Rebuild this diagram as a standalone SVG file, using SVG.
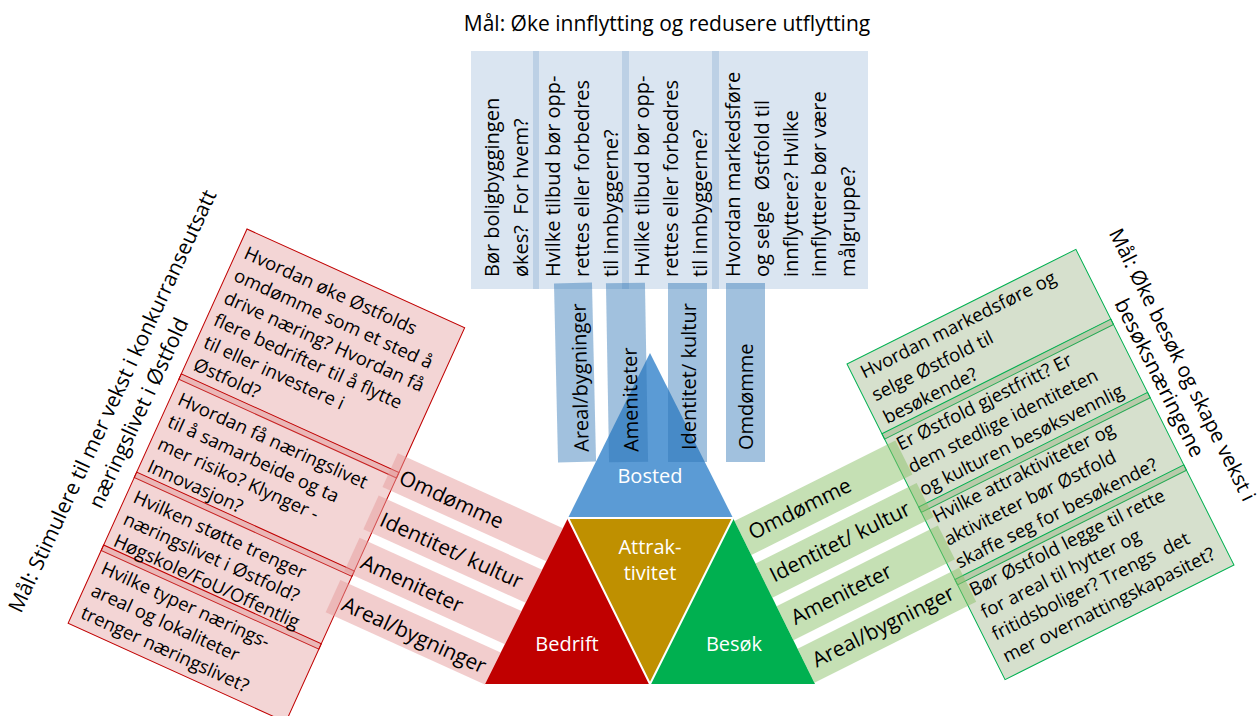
<svg xmlns="http://www.w3.org/2000/svg" width="1260" height="716" viewBox="0 0 1260 716">
<style>
text { font-family: "Open Sans", "Noto Sans", "DejaVu Sans", sans-serif; fill: #000; white-space: pre; }
.t21 { font-size: 21px; }
.tq { font-size: 20px; }
.q { font-size: 18.5px; }
.bl { font-size: 20px; }
.gl { font-size: 21px; }
.lbl { font-size: 20px; fill: #fff; text-anchor: middle; }
.topbox { fill: rgb(70,125,185); fill-opacity: 0.2; }
.bbar { fill: #2e75b6; fill-opacity: 0.45; }
.pbox { fill: rgb(215,115,115); fill-opacity: 0.3; stroke: #c00000; stroke-width: 1; }
.pbar { fill: rgb(229,155,155); fill-opacity: 0.5; }
.gbox { fill: rgb(118,152,88); fill-opacity: 0.3; stroke: #00b050; stroke-width: 1; }
.gbar { fill: rgb(139,193,105); fill-opacity: 0.5; }
</style>
<rect width="1260" height="716" fill="#fff"/>

<g id="goal-top">
<text class="t21" x="667" y="31" text-anchor="middle">Mål: Øke innflytting og redusere utflytting</text>
</g>

<g id="top-questions">
<g id="q-bolig">
<rect class="topbox" x="471" y="51" width="68" height="238"/>
<text class="tq" transform="rotate(-90)" x="-277" y="499">Bør boligbyggingen</text>
<text class="tq" transform="rotate(-90)" x="-277" y="528">økes?  For hvem?</text>
</g>
<g id="q-tilbud-1">
<rect class="topbox" x="533" y="51" width="96" height="238"/>
<text class="tq" transform="rotate(-90)" x="-277" y="560">Hvilke tilbud bør opp-</text>
<text class="tq" transform="rotate(-90)" x="-277" y="589">rettes eller forbedres</text>
<text class="tq" transform="rotate(-90)" x="-277" y="618">til innbyggerne?</text>
</g>
<g id="q-tilbud-2">
<rect class="topbox" x="622" y="51" width="97" height="238"/>
<text class="tq" transform="rotate(-90)" x="-277" y="649">Hvilke tilbud bør opp-</text>
<text class="tq" transform="rotate(-90)" x="-277" y="678">rettes eller forbedres</text>
<text class="tq" transform="rotate(-90)" x="-277" y="707">til innbyggerne?</text>
</g>
<g id="q-marked">
<rect class="topbox" x="712" y="51" width="156" height="238"/>
<text class="tq" transform="rotate(-90)" x="-277" y="740">Hvordan markedsføre</text>
<text class="tq" transform="rotate(-90)" x="-277" y="769">og selge  Østfold til</text>
<text class="tq" transform="rotate(-90)" x="-277" y="798">innflyttere? Hvilke</text>
<text class="tq" transform="rotate(-90)" x="-277" y="826">innflyttere bør være</text>
<text class="tq" transform="rotate(-90)" x="-277" y="855">målgruppe?</text>
</g>
</g>

<g id="node-bosted">
<polygon points="650,353 733,518 568,518" fill="#5b9bd5"/>
<text class="lbl" x="650" y="483">Bosted</text>
</g>
<g id="node-bedrift">
<polygon points="568,518 650,684 485,684" fill="#c00000"/>
<text class="lbl" x="567" y="651">Bedrift</text>
</g>
<g id="node-besok">
<polygon points="733,518 815,684 650,684" fill="#00b050"/>
<text class="lbl" x="734" y="651">Besøk</text>
</g>
<g id="node-attraktivitet">
<polygon points="568,518 733,518 650,684" fill="#bf9000" stroke="#fff" stroke-width="2" stroke-linejoin="round"/>
<text class="lbl" x="650" y="554">Attrak-</text>
<text class="lbl" x="650" y="580">tivitet</text>
</g>

<g id="left-questions" transform="translate(247 229) rotate(24.4)">
<rect class="pbox" x="0" y="0" width="239" height="165"/>
<rect class="pbox" x="0" y="159" width="239" height="114"/>
<rect class="pbox" x="0" y="267" width="239" height="86"/>
<rect class="pbox" x="0" y="347" width="239" height="86"/>
<text class="q" x="8" y="28">Hvordan øke Østfolds</text>
<text class="q" x="8" y="52.5">omdømme som et sted å</text>
<text class="q" x="8" y="77">drive næring? Hvordan få</text>
<text class="q" x="8" y="101.5">flere bedrifter til å flytte</text>
<text class="q" x="8" y="126">til eller investere i</text>
<text class="q" x="8" y="150.5">Østfold?</text>
<text class="q" x="8" y="188.5">Hvordan få næringslivet</text>
<text class="q" x="8" y="213">til å samarbeide og ta</text>
<text class="q" x="8" y="237.5">mer risiko? Klynger -</text>
<text class="q" x="8" y="262">Innovasjon?</text>
<text class="q" x="8" y="296">Hvilken støtte trenger</text>
<text class="q" x="8" y="320">næringslivet i Østfold?</text>
<text class="q" x="8" y="344">Høgskole/FoU/Offentlig</text>
<text class="q" x="8" y="374">Hvilke typer nærings-</text>
<text class="q" x="8" y="398.5">areal og lokaliteter</text>
<text class="q" x="8" y="423">trenger næringslivet?</text>
</g>

<g id="right-questions" transform="translate(847 364) rotate(-26.6)">
<rect class="gbox" x="0" y="0" width="256" height="84"/>
<rect class="gbox" x="0" y="78" width="256" height="88"/>
<rect class="gbox" x="0" y="160" width="256" height="87"/>
<rect class="gbox" x="0" y="241" width="256" height="112"/>
<text class="q" x="9" y="21">Hvordan markedsføre og</text>
<text class="q" x="9" y="46.5">selge Østfold til</text>
<text class="q" x="9" y="72">besøkende?</text>
<text class="q" x="9" y="101.5">Er Østfold gjestfritt? Er</text>
<text class="q" x="9" y="127">dem stedlige identiteten</text>
<text class="q" x="9" y="152.5">og kulturen besøksvennlig</text>
<text class="q" x="9" y="182.5">Hvilke attraktiviteter og</text>
<text class="q" x="9" y="208">aktiviteter bør Østfold</text>
<text class="q" x="9" y="233.5">skaffe seg for besøkende?</text>
<text class="q" x="9" y="264.5">Bør Østfold legge til rette</text>
<text class="q" x="9" y="289.5">for areal til hytter og</text>
<text class="q" x="9" y="314">fritidsboliger? Trengs  det</text>
<text class="q" x="9" y="339">mer overnattingskapasitet?</text>
</g>

<g id="connectors">
<g id="bosted-bars">
<g transform="rotate(-1.3 575 372)">
<rect class="bbar" x="556" y="283" width="38" height="179"/>
<text class="bl" transform="rotate(-90)" x="-452" y="587">Areal/bygninger</text>
</g>
<g transform="rotate(-1 627 372)">
<rect class="bbar" x="607.5" y="283" width="39" height="179"/>
<text class="bl" transform="rotate(-90)" x="-452" y="637">Ameniteter</text>
</g>
<rect class="bbar" x="668" y="283" width="39" height="179"/>
<text class="bl" transform="rotate(-90)" x="-450" y="696">Identitet/ kultur</text>
<rect class="bbar" x="726" y="283" width="39" height="179"/>
<text class="bl" transform="rotate(-90)" x="-450" y="753">Omdømme</text>
</g>
<g id="bedrift-bars" transform="translate(247 229) rotate(24.4)">
<polygon class="pbar" points="230,142 411.3,142 409.9,179 230,179"/>
<polygon class="pbar" points="230,188.3 409.5,188.3 408.1,225.3 230,225.3"/>
<polygon class="pbar" points="230,234.6 407.8,234.6 406.4,271.6 230,271.6"/>
<polygon class="pbar" points="230,281 406,281 404.7,316.5 230,316.5"/>
<text class="gl" x="242" y="169">Omdømme</text>
<text class="gl" x="242" y="215.5">Identitet/ kultur</text>
<text class="gl" x="242" y="262">Ameniteter</text>
<text class="gl" x="242" y="308">Areal/bygninger</text>
</g>
<g id="besok-bars" transform="translate(847 364) rotate(-26.6)">
<polygon class="gbar" points="-171,90 9,90 9,128 -171.1,128"/>
<polygon class="gbar" points="-171.2,137.5 9,137.5 9,175.5 -171.4,175.5"/>
<polygon class="gbar" points="-171.4,185 9,185 9,223 -171.6,223"/>
<polygon class="gbar" points="-171.7,232.5 9,232.5 9,270.5 -171.9,270.5"/>
<text class="gl" x="-163" y="115.5">Omdømme</text>
<text class="gl" x="-163" y="163">Identitet/ kultur</text>
<text class="gl" x="-163" y="210.5">Ameniteter</text>
<text class="gl" x="-163" y="258">Areal/bygninger</text>
</g>
</g>

<g id="goal-left">
<text class="t21" transform="translate(119 404) rotate(-65)" text-anchor="middle">Mål: Stimulere til mer vekst i konkurranseutsatt</text>
<text class="t21" transform="translate(145 416) rotate(-65)" text-anchor="middle">næringslivet i Østfold</text>
</g>
<g id="goal-right">
<text class="t21" transform="translate(1176 368) rotate(63.4)" text-anchor="middle" style="font-size:20.5px">Mål: Øke besøk og skape vekst i</text>
<text class="t21" transform="translate(1153 381) rotate(63.4)" text-anchor="middle">besøksnæringene</text>
</g>
</svg>
